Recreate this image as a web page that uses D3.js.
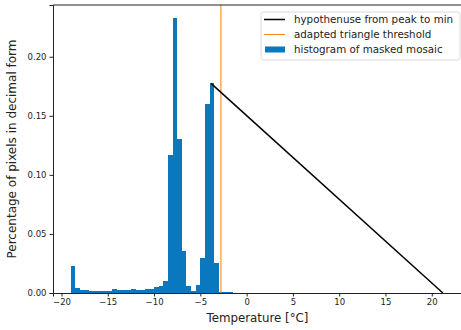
<!DOCTYPE html>
<html>
<head>
<meta charset="utf-8">
<script src="https://cdn.jsdelivr.net/npm/d3@7"></script>
<style>
  html, body { margin: 0; padding: 0; background: #fff; }
  svg { display: block; font-family: "DejaVu Sans", sans-serif; }
</style>
</head>
<body>
<svg id="chart" width="461" height="330"></svg>
<script>
// Histogram bins (left edges, 0.5 °C wide) and their fraction of pixels
const binStarts = [-19, -18.5, -18, -17.5, -17, -16.5, -16, -15.5, -15, -14.5,
  -14, -13.5, -13, -12.5, -12, -11.5, -11, -10.5, -10, -9.5,
  -9, -8.5, -8, -7.5, -7, -6.5, -6, -5.5, -5, -4.5,
  -4, -3.5, -3, -2.5, -2];
const binFractions = [0.0231, 0.0042, 0.0025, 0.0025, 0.0017, 0.0017, 0.0017, 0.0020, 0.0020, 0.0030,
  0.0025, 0.0025, 0.0025, 0.0030, 0.0025, 0.0025, 0.0030, 0.0030, 0.0053, 0.0060,
  0.0102, 0.1170, 0.2325, 0.1300, 0.0355, 0.0060, 0.0015, 0.0068, 0.0300, 0.1600,
  0.1775, 0.0257, 0.0010, 0.0008, 0.0008];
const binWidth = 0.5;

// Hypotenuse from the histogram peak down to the minimum
const hypotenuseX = [-3.85, 21.2];
const hypotenuseY = [0.1775, 0.0];

// Adapted triangle threshold (°C)
const thresholdValue = -2.78;

const xTicks = [-20, -15, -10, -5, 0, 5, 10, 15, 20];
const yTicks = [0.00, 0.05, 0.10, 0.15, 0.20];

const legendLabels = ["hypothenuse from peak to min", "adapted triangle threshold", "histogram of masked mosaic"];

const barColor = "#0a78be";
const thresholdColor = "#f28c1c";

const svg = d3.select("#chart");
const plot = { left: 53, right: 466, top: 5, bottom: 293 };

const x = d3.scaleLinear().domain([-20.92, 23.7]).range([plot.left, plot.right]);
const y = d3.scaleLinear().domain([0, 0.2438]).range([plot.bottom, plot.top]);

// bars
svg.append("g")
  .selectAll("rect")
  .data(binStarts.map((s, i) => ({ s, v: binFractions[i] })))
  .join("rect")
  .attr("x", d => x(d.s))
  .attr("width", d => x(d.s + binWidth) - x(d.s))
  .attr("y", d => y(d.v))
  .attr("height", d => y(0) - y(d.v))
  .attr("fill", barColor)
  .attr("shape-rendering", "crispEdges");

// threshold line
svg.append("line")
  .attr("x1", x(thresholdValue)).attr("x2", x(thresholdValue))
  .attr("y1", y.range()[1]).attr("y2", y.range()[0])
  .attr("stroke", thresholdColor).attr("stroke-width", 1.1);

// hypotenuse
svg.append("path")
  .datum(hypotenuseX.map((d, i) => [d, hypotenuseY[i]]))
  .attr("d", d3.line().x(d => x(d[0])).y(d => y(d[1])))
  .attr("fill", "none").attr("stroke", "#000").attr("stroke-width", 1.5);

// axes
const xAxis = svg.append("g")
  .attr("transform", `translate(0,${plot.bottom})`)
  .call(d3.axisBottom(x).tickValues(xTicks).tickSize(3.5).tickPadding(2.5)
    .tickFormat(d => d < 0 ? "\u2212" + Math.abs(d) : String(d)));
const yAxis = svg.append("g")
  .attr("transform", `translate(${plot.left},0)`)
  .call(d3.axisLeft(y).tickValues(yTicks).tickSize(3.5).tickPadding(3)
    .tickFormat(d3.format(".2f")));

[xAxis, yAxis].forEach(g => {
  g.selectAll("text").attr("font-size", 8.5).attr("fill", "#222")
    .attr("font-family", "DejaVu Sans, sans-serif");
  g.selectAll("line").attr("stroke", "#222");
  g.select(".domain").attr("stroke", "#222");
});

// top and right spines
svg.append("line").attr("x1", plot.left).attr("x2", plot.right)
  .attr("y1", plot.top).attr("y2", plot.top).attr("stroke", "#222");
svg.append("line").attr("x1", plot.right).attr("x2", plot.right)
  .attr("y1", plot.top).attr("y2", plot.bottom).attr("stroke", "#222");

// axis labels
svg.append("text")
  .attr("x", 257.5).attr("y", 322)
  .attr("text-anchor", "middle").attr("font-size", 11.8).attr("fill", "#222")
  .text("Temperature [°C]");
svg.append("text")
  .attr("transform", `translate(16,${(plot.top + plot.bottom) / 2}) rotate(-90)`)
  .attr("text-anchor", "middle").attr("font-size", 12).attr("fill", "#222")
  .text("Percentage of pixels in decimal form");

// legend
const lg = svg.append("g").attr("transform", "translate(261,12)");
lg.append("rect").attr("width", 199).attr("height", 48).attr("rx", 2.5)
  .attr("fill", "#fff").attr("fill-opacity", 0.8)
  .attr("stroke", "#d0d0d0").attr("stroke-width", 0.8);
const rows = [7.5, 22.5, 37.5];
lg.append("line").attr("x1", 3).attr("x2", 24).attr("y1", rows[0]).attr("y2", rows[0])
  .attr("stroke", "#000").attr("stroke-width", 1.5);
lg.append("line").attr("x1", 3).attr("x2", 24).attr("y1", rows[1]).attr("y2", rows[1])
  .attr("stroke", thresholdColor).attr("stroke-width", 1.1);
lg.append("rect").attr("x", 4).attr("y", rows[2] - 3).attr("width", 20).attr("height", 6)
  .attr("fill", barColor);
legendLabels.forEach((t, i) => {
  lg.append("text").attr("x", 33).attr("y", rows[i]).attr("dy", "0.35em")
    .attr("font-size", 10.3).attr("fill", "#222").text(t);
});
</script>
</body>
</html>
